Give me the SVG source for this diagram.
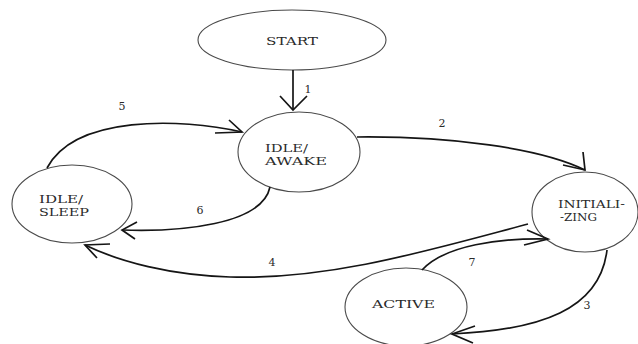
<svg xmlns="http://www.w3.org/2000/svg" width="638" height="344" viewBox="0 0 638 344">
  <style>
    .node { fill: #ffffff; stroke: #4a4a4a; stroke-width: 1.1; }
    .name { font-family: "DejaVu Serif", "Liberation Serif", serif; font-size: 11.5px; fill: #2a2a2a; }
    .edge { fill: none; stroke: #151515; stroke-width: 1.7; }
    .head { fill: none; stroke: #151515; stroke-width: 1.7; stroke-linejoin: miter; }
    .num { font-family: "DejaVu Serif", "Liberation Serif", serif; font-size: 11px; fill: #2a2a2a; text-anchor: middle; }
  </style>
  <rect width="638" height="344" fill="#ffffff"/>

  <g id="start">
    <ellipse class="node" cx="292" cy="40" rx="94" ry="30"/>
    <text class="name" x="266" y="45" textLength="52" lengthAdjust="spacingAndGlyphs">START</text>
  </g>

  <g id="idle-awake">
    <ellipse class="node" cx="299" cy="152" rx="61" ry="40"/>
    <text class="name" x="265" y="152" textLength="43" lengthAdjust="spacingAndGlyphs">IDLE/</text>
    <text class="name" x="265" y="165" textLength="62" lengthAdjust="spacingAndGlyphs">AWAKE</text>
  </g>

  <g id="idle-sleep">
    <ellipse class="node" cx="72" cy="204" rx="60" ry="39"/>
    <text class="name" x="39" y="203" textLength="44" lengthAdjust="spacingAndGlyphs">IDLE/</text>
    <text class="name" x="39" y="216" textLength="50" lengthAdjust="spacingAndGlyphs">SLEEP</text>
  </g>

  <g id="initializing">
    <ellipse class="node" cx="585" cy="212" rx="53" ry="40"/>
    <text class="name" x="558" y="208" textLength="67" lengthAdjust="spacingAndGlyphs">INITIALI-</text>
    <text class="name" x="560" y="221" textLength="37" lengthAdjust="spacingAndGlyphs">-ZING</text>
  </g>

  <g id="active">
    <ellipse class="node" cx="406" cy="307" rx="61" ry="39"/>
    <text class="name" x="372" y="308" textLength="63" lengthAdjust="spacingAndGlyphs">ACTIVE</text>
  </g>

  <g id="connectors">
    <!-- 1: START to IDLE/AWAKE -->
    <path class="edge" d="M293,70 L293,110"/>
    <polyline class="head" points="280,96 293,110 307,96"/>
    <text class="num" x="308" y="93">1</text>

    <!-- 2: IDLE/AWAKE to INITIALIZING -->
    <path class="edge" d="M357,137 C450,136 540,148 585,170"/>
    <polyline class="head" points="583,152 585,170 563,165"/>
    <text class="num" x="442" y="127">2</text>

    <!-- 5: IDLE/SLEEP to IDLE/AWAKE -->
    <path class="edge" d="M47,168 C75,115 180,118 242,132"/>
    <polyline class="head" points="215,133 242,132 229,120"/>
    <text class="num" x="122" y="110">5</text>

    <!-- 6: IDLE/AWAKE to IDLE/SLEEP -->
    <path class="edge" d="M270,187 C262,225 180,232 122,230"/>
    <polyline class="head" points="137,222 122,230 135,239"/>
    <text class="num" x="200" y="214">6</text>

    <!-- 4: INITIALIZING to IDLE/SLEEP -->
    <path class="edge" d="M528,224 C430,250 330,280 230,277 C170,275 120,262 85,245"/>
    <polyline class="head" points="110,244 85,245 97,258"/>
    <text class="num" x="272" y="266">4</text>

    <!-- 7: ACTIVE to INITIALIZING -->
    <path class="edge" d="M422,270 C445,245 500,238 548,239"/>
    <polyline class="head" points="527,230 548,239 524,245"/>
    <text class="num" x="472" y="266">7</text>

    <!-- 3: INITIALIZING to ACTIVE -->
    <path class="edge" d="M607,250 C600,310 540,330 452,334"/>
    <polyline class="head" points="475,326 452,334 473,343"/>
    <text class="num" x="587" y="309">3</text>
  </g>
</svg>
